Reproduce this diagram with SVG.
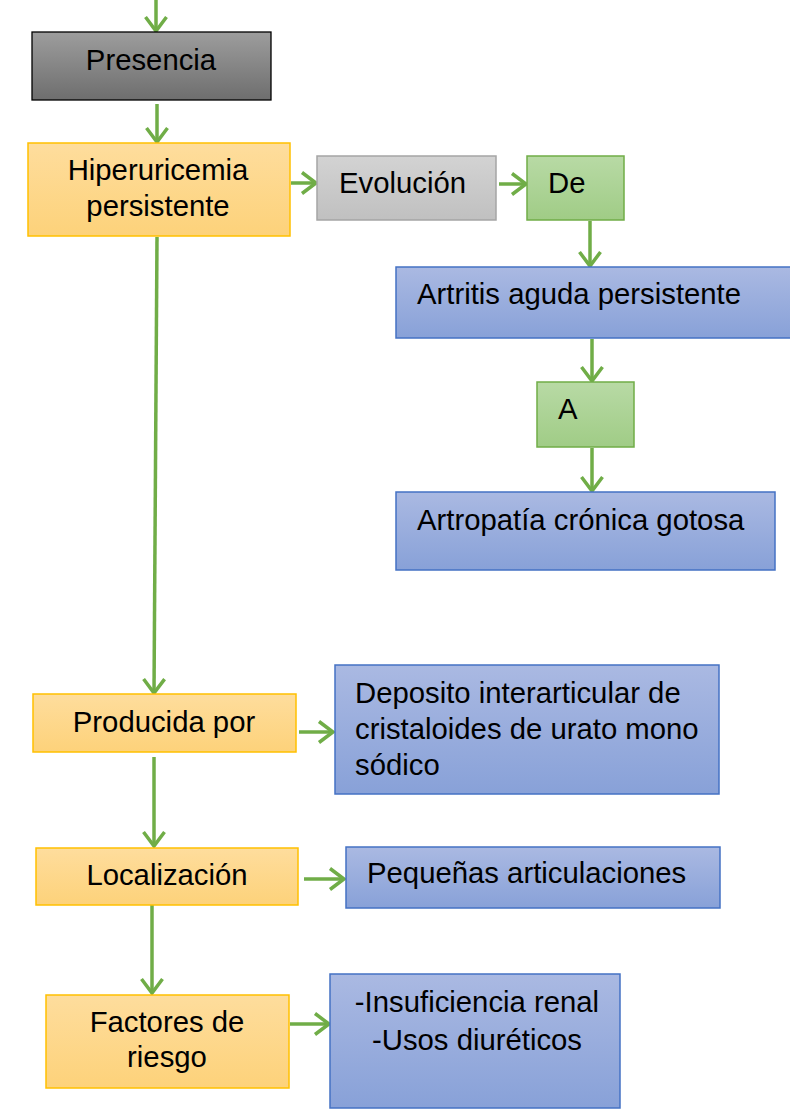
<svg xmlns="http://www.w3.org/2000/svg" width="790" height="1109" viewBox="0 0 790 1109">
<defs>
<linearGradient id="gDark" x1="0" y1="0" x2="0" y2="1"><stop offset="0" stop-color="#9d9d9d"/><stop offset="1" stop-color="#6e6e6e"/></linearGradient>
<linearGradient id="gGray" x1="0" y1="0" x2="0" y2="1"><stop offset="0" stop-color="#d3d3d3"/><stop offset="1" stop-color="#c0c0c0"/></linearGradient>
<linearGradient id="gYellow" x1="0" y1="0" x2="0" y2="1"><stop offset="0" stop-color="#fedd9d"/><stop offset="1" stop-color="#fdd27a"/></linearGradient>
<linearGradient id="gGreen" x1="0" y1="0" x2="0" y2="1"><stop offset="0" stop-color="#b8daa5"/><stop offset="1" stop-color="#a0cc86"/></linearGradient>
<linearGradient id="gBlue" x1="0" y1="0" x2="0" y2="1"><stop offset="0" stop-color="#aab9e2"/><stop offset="1" stop-color="#88a1d8"/></linearGradient>
<marker id="ah" markerUnits="userSpaceOnUse" markerWidth="30" markerHeight="30" viewBox="-16 -15 30 30" refX="0" refY="0" orient="auto" overflow="visible">
<path d="M-14,-10.5 L0,0 L-14,10.5" fill="none" stroke="#70ad47" stroke-width="3.5" stroke-linejoin="miter"/>
</marker>
</defs>
<style>
text{font-family:"Liberation Sans",Arial,sans-serif;font-size:29.3px;fill:#000}
.c{text-anchor:middle}
.dark{fill:url(#gDark);stroke:#000;stroke-width:1.3}
.gray{fill:url(#gGray);stroke:#a5a5a5;stroke-width:1.5}
.yel{fill:url(#gYellow);stroke:#ffc000;stroke-width:1.5}
.grn{fill:url(#gGreen);stroke:#70ad47;stroke-width:1.5}
.blu{fill:url(#gBlue);stroke:#4472c4;stroke-width:1.5}
#connectors line{stroke:#70ad47;stroke-width:3.5;fill:none;marker-end:url(#ah)}
</style>

<g id="connectors">
<line x1="156" y1="0" x2="156" y2="31"/>
<line x1="157" y1="104" x2="157" y2="142"/>
<line x1="291" y1="183" x2="316" y2="183"/>
<line x1="499" y1="184" x2="526" y2="184"/>
<line x1="590" y1="221" x2="590" y2="266"/>
<line x1="592" y1="339" x2="592" y2="381"/>
<line x1="592" y1="448" x2="592" y2="491"/>
<line x1="157" y1="237" x2="154" y2="693"/>
<line x1="299" y1="732" x2="333" y2="732"/>
<line x1="154" y1="757" x2="154" y2="846"/>
<line x1="304" y1="879" x2="344" y2="879"/>
<line x1="152" y1="903" x2="152" y2="993"/>
<line x1="290" y1="1024" x2="329" y2="1024"/>
</g>

<g id="presencia">
<rect class="dark" x="32" y="32" width="239" height="68"/>
<text class="c" x="151" y="70">Presencia</text>
</g>
<g id="hiperuricemia">
<rect class="yel" x="28" y="143" width="262" height="93"/>
<text class="c" x="158" y="180">Hiperuricemia</text>
<text class="c" x="158" y="216">persistente</text>
</g>
<g id="evolucion">
<rect class="gray" x="317" y="156" width="179" height="64"/>
<text x="339" y="193">Evolución</text>
</g>
<g id="de">
<rect class="grn" x="527" y="156" width="97" height="64"/>
<text x="548" y="193">De</text>
</g>
<g id="artritis">
<rect class="blu" x="396" y="267" width="395" height="71"/>
<text x="417" y="304">Artritis aguda persistente</text>
</g>
<g id="a">
<rect class="grn" x="537" y="382" width="97" height="65"/>
<text x="558" y="419">A</text>
</g>
<g id="artropatia">
<rect class="blu" x="396" y="492" width="379" height="78"/>
<text x="417" y="530">Artropatía crónica gotosa</text>
</g>
<g id="producida">
<rect class="yel" x="33" y="694" width="263" height="58"/>
<text class="c" x="164" y="732">Producida por</text>
</g>
<g id="deposito">
<rect class="blu" x="335" y="665" width="384" height="129"/>
<text x="355" y="703">Deposito interarticular de</text>
<text x="355" y="739">cristaloides de urato mono</text>
<text x="355" y="775">sódico</text>
</g>
<g id="localizacion">
<rect class="yel" x="36" y="848" width="262" height="57"/>
<text class="c" x="167" y="885">Localización</text>
</g>
<g id="pequenas">
<rect class="blu" x="346" y="847" width="374" height="61"/>
<text x="367" y="883">Pequeñas articulaciones</text>
</g>
<g id="factores">
<rect class="yel" x="46" y="995" width="243" height="93"/>
<text class="c" x="167" y="1032">Factores de</text>
<text class="c" x="167" y="1067">riesgo</text>
</g>
<g id="insuficiencia">
<rect class="blu" x="330" y="974" width="290" height="134"/>
<text class="c" x="477" y="1012">-Insuficiencia renal</text>
<text class="c" x="477" y="1050">-Usos diuréticos</text>
</g>
</svg>
